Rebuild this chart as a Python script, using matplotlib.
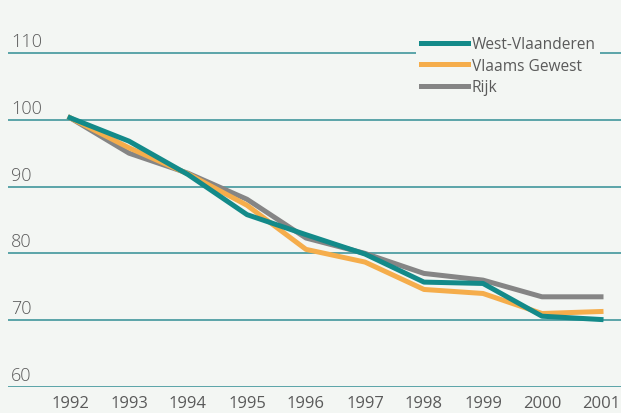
import matplotlib.pyplot as plt

years = [1992, 1993, 1994, 1995, 1996, 1997, 1998, 1999, 2000, 2001]
west_vlaanderen = [100.3, 96.8, 91.8, 85.8, 82.8, 79.9, 75.7, 75.5, 70.6, 70.1]
vlaams_gewest = [100.3, 95.8, 91.9, 87.2, 80.6, 78.7, 74.6, 74.0, 71.0, 71.3]
rijk = [100.3, 95.0, 92.0, 88.1, 82.3, 80.0, 77.0, 76.0, 73.5, 73.5]
y_ticks = [60, 70, 80, 90, 100, 110]

bg = '#f3f6f3'
grid_col = '#4f9ea3'
txt_col = '#5a5a5a'

plt.rcParams['font.family'] = ['Open Sans', 'DejaVu Sans']

fig = plt.figure(figsize=(6.21, 4.14), dpi=100, facecolor=bg)
# axes spans from x=8px to the right edge, 60 at y=388px
ax = fig.add_axes([8 / 621, 1 - 388 / 414, 613 / 621, (388 - 40.6) / 414])
ax.set_facecolor(bg)
ax.set_xlim(1992 - 62 / 59, 2001 + 20 / 59)
ax.set_ylim(60, 112)

for v in y_ticks:
    ax.axhline(v, color=grid_col, lw=1.3, zorder=1)
    ax.text(1992 - 59 / 59, v + 0.45, str(v), ha='left', va='bottom', fontsize=13,
            color=txt_col, fontweight='light')

ax.plot(years, rijk, color='#858585', lw=3.6, label='Rijk', zorder=3)
ax.plot(years, vlaams_gewest, color='#f5ad4b', lw=3.6, label='Vlaams Gewest', zorder=4)
ax.plot(years, west_vlaanderen, color='#138a89', lw=3.6, label='West-Vlaanderen', zorder=5)

handles, labels = ax.get_legend_handles_labels()
leg = ax.legend(handles[::-1], labels[::-1], loc='upper right',
                bbox_to_anchor=(608 / 621, 1 - 25 / 414), bbox_transform=fig.transFigure,
                frameon=True, fontsize=11.2,
                handlelength=3.0, handletextpad=0.25, labelspacing=0.35,
                borderpad=0.3)
leg.get_frame().set_facecolor(bg)
leg.get_frame().set_edgecolor('none')
leg.get_frame().set_alpha(1)
leg.set_zorder(6)
for t in leg.get_texts():
    t.set_color(txt_col)

ax.set_xticks(years)
ax.set_xticklabels([str(y) for y in years], fontsize=12, color=txt_col)
ax.tick_params(axis='x', length=0, pad=6)
ax.set_yticks([])
for s in ax.spines.values():
    s.set_visible(False)

fig.savefig('out.png', dpi=100, facecolor=bg)
